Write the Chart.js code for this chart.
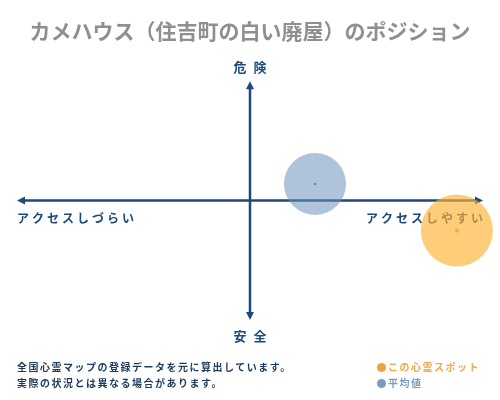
<!DOCTYPE html>
<html>
<head>
<meta charset="utf-8">
<script src="https://cdn.jsdelivr.net/npm/chart.js@4"></script>
<style>
  body { margin: 0; background: #fff; font-family: "Noto Sans CJK JP", sans-serif; }
  #wrap { position: relative; width: 500px; height: 400px; }
  #note { position: absolute; left: 17px; top: 359px; font-size: 10px; font-weight: bold; color: #1d3a5c; line-height: 16px; letter-spacing: 1.5px; }
  #legend { position: absolute; left: 377px; top: 359px; font-size: 10px; font-weight: bold; line-height: 16px; letter-spacing: 1.5px; }
  .dot { display: inline-block; width: 9px; height: 9px; border-radius: 50%; margin-right: 2px; vertical-align: -1px; }
</style>
</head>
<body>
<div id="wrap">
  <canvas id="mycanvas" width="500" height="400"></canvas>
  <div id="note">全国心霊マップの登録データを元に算出しています。<br>実際の状況とは異なる場合があります。</div>
  <div id="legend">
    <div style="color:#f0a848"><span class="dot" style="background:#f0a040"></span>この心霊スポット</div>
    <div style="color:#7b9cc0"><span class="dot" style="background:#7b9cc0"></span>平均値</div>
  </div>
</div>
<script>
var title = 'カメハウス（住吉町の白い廃屋）のポジション';
var axisTop = '危 険';
var axisBottom = '安 全';
var axisLeft = 'アクセスしづらい';
var axisRight = 'アクセスしやすい';

var seriesNames = ['この心霊スポット', '平均値'];
var accessX = [0.888, 0.279];
var dangerY = [-0.25, 0.14];
var bubbleSize = [36, 31];

// axes with arrows, drawn from the scales
var quadrantAxes = {
  id: 'quadrantAxes',
  beforeDatasetsDraw: function(chart) {
    var ctx = chart.ctx;
    var xs = chart.scales.x, ys = chart.scales.y;
    var cx = xs.getPixelForValue(0), cy = ys.getPixelForValue(0);
    var l = xs.left, r = xs.right, t = ys.top, b = ys.bottom;
    var col = '#1d4a78';
    ctx.save();
    ctx.strokeStyle = col;
    ctx.fillStyle = col;
    ctx.lineWidth = 2.5;
    ctx.beginPath();
    ctx.moveTo(l + 4, cy); ctx.lineTo(r - 4, cy);
    ctx.moveTo(cx, t + 4); ctx.lineTo(cx, b - 4);
    ctx.stroke();
    function head(x, y, dx, dy) {
      ctx.beginPath();
      ctx.moveTo(x, y);
      ctx.lineTo(x - dx * 8 + dy * 4, y - dy * 8 + dx * 4);
      ctx.lineTo(x - dx * 8 - dy * 4, y - dy * 8 - dx * 4);
      ctx.closePath();
      ctx.fill();
    }
    head(r, cy, 1, 0); head(l, cy, -1, 0);
    head(cx, t, 0, -1); head(cx, b, 0, 1);

    ctx.font = 'bold 13px "Noto Sans CJK JP"';
    ctx.letterSpacing = '2px';
    ctx.textBaseline = 'middle';
    ctx.textAlign = 'center';
    ctx.fillText(axisTop, cx + 1, t - 14);
    ctx.fillText(axisBottom, cx + 1, b + 16);
    ctx.font = 'bold 12px "Noto Sans CJK JP"';
    ctx.letterSpacing = '3px';
    ctx.textAlign = 'left';
    ctx.fillText(axisLeft, l, cy + 18);
    ctx.textAlign = 'right';
    ctx.fillText(axisRight, r + 3, cy + 18);
    ctx.restore();
  }
};

var ctx = document.getElementById('mycanvas');
new Chart(ctx, {
  type: 'bubble',
  data: {
    datasets: [
      {
        label: seriesNames[0],
        data: [{ x: accessX[0], y: dangerY[0], r: bubbleSize[0] }],
        backgroundColor: 'rgba(253, 178, 50, 0.65)',
        borderWidth: 0,
        clip: false
      },
      {
        label: seriesNames[1],
        data: [{ x: accessX[1], y: dangerY[1], r: bubbleSize[1] }],
        backgroundColor: 'rgba(110, 145, 190, 0.55)',
        borderWidth: 0,
        clip: false
      },
      {
        label: 'center',
        data: [{ x: accessX[0], y: dangerY[0], r: 2 }, { x: accessX[1], y: dangerY[1], r: 1 }],
        backgroundColor: ['#f0a000', '#1d3a5c'],
        borderWidth: 0,
        clip: false
      }
    ]
  },
  options: {
    responsive: false,
    animation: false,
    layout: { autoPadding: false, padding: { left: 17, right: 17, top: 18, bottom: 80 } },
    scales: {
      x: { display: false, min: -1, max: 1 },
      y: { display: false, min: -1, max: 1 }
    },
    plugins: {
      legend: { display: false },
      tooltip: { enabled: false },
      title: {
        display: true,
        text: title,
        color: '#8f8f8f',
        font: { family: '"Noto Sans CJK JP"', size: 21, weight: 'bold' },
        padding: { top: 0, bottom: 38 }
      }
    }
  },
  plugins: [quadrantAxes]
});
</script>
</body>
</html>
